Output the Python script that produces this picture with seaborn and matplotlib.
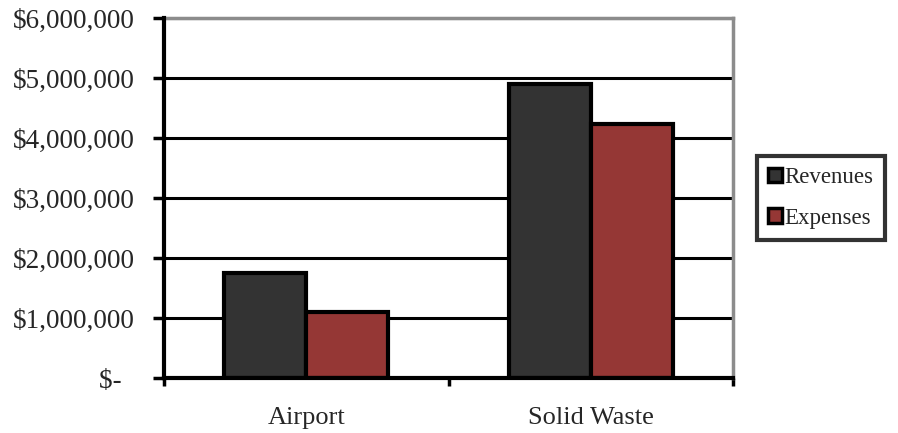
import matplotlib
matplotlib.use("Agg")
import matplotlib.pyplot as plt
import seaborn as sns
import pandas as pd
from matplotlib.ticker import FuncFormatter, FixedLocator
from matplotlib.patches import Patch

categories = ["Airport", "Solid Waste"]
revenues = [1750000, 4900000]
expenses = [1100000, 4230000]
series_names = ["Revenues", "Expenses"]
colors = ["#333333", "#953735"]

df = pd.DataFrame({
    "fund": categories * 2,
    "series": [series_names[0]] * 2 + [series_names[1]] * 2,
    "amount": revenues + expenses,
})

sns.set_theme(style="white")
plt.rcParams["font.family"] = ["Liberation Serif", "DejaVu Serif"]

fig = plt.figure(figsize=(8.98, 4.33), dpi=100)
ax = fig.add_axes([164 / 898, 55 / 433, (733 - 164) / 898, (378 - 18) / 433])

sns.barplot(data=df, x="fund", y="amount", hue="series", palette=colors,
            saturation=1, width=0.575, edgecolor="black", linewidth=3,
            ax=ax, legend=False, zorder=3)

ax.set_xlim(-0.5, 1.5)
ax.set_ylim(0, 6000000)
ax.set_yticks(range(0, 6000001, 1000000))
ax.yaxis.set_major_formatter(FuncFormatter(
    lambda v, p: "$-  " if v == 0 else f"${v:,.0f}"))
ax.grid(axis="y", color="black", linewidth=2.2, zorder=0)
ax.grid(axis="x", visible=False)

# category boundary ticks on the x axis, labels centred between them
ax.xaxis.set_major_locator(FixedLocator([-0.5, 0.5, 1.5]))
ax.xaxis.set_minor_locator(FixedLocator([0, 1]))
ax.set_xticklabels(["", "", ""])
ax.set_xticklabels(categories, minor=True)
ax.tick_params(axis="x", which="major", direction="out", length=6, width=2.5,
               color="black", bottom=True)
ax.tick_params(axis="x", which="minor", length=0, pad=21, labelsize=19)
ax.tick_params(axis="y", direction="out", length=8, width=2.5, color="black",
               left=True, labelsize=19.5, pad=13)
ax.set_xlabel("")
ax.set_ylabel("")

for s in ["left", "bottom"]:
    ax.spines[s].set_color("black")
    ax.spines[s].set_linewidth(3)
    ax.spines[s].set_zorder(5)
for s in ["top", "right"]:
    ax.spines[s].set_color("#8c8c8c")
    ax.spines[s].set_linewidth(2.5)

handles = [Patch(facecolor=c, edgecolor="black", linewidth=2.5) for c in colors]
leg = fig.legend(handles, series_names, loc="center left",
                 bbox_to_anchor=(757 / 898, (433 - 198) / 433),
                 frameon=True, fancybox=False, fontsize=16.5,
                 handlelength=0.6, handleheight=0.6, handletextpad=0.1,
                 labelspacing=0.85, borderpad=0.5, borderaxespad=0)
leg.get_frame().set_edgecolor("black")
leg.get_frame().set_linewidth(3)

fig.savefig("out.png", dpi=100)
